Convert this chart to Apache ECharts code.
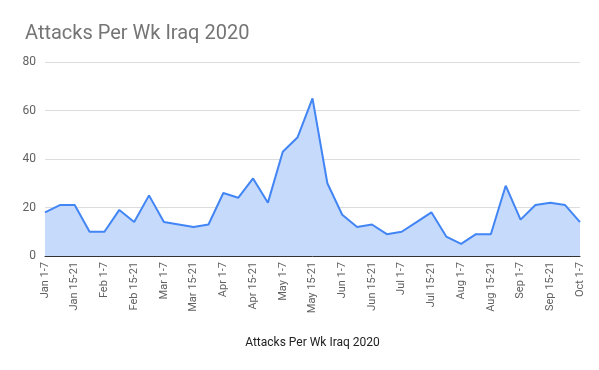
<!DOCTYPE html>
<html><head><meta charset="utf-8">
<script src="https://cdn.jsdelivr.net/npm/echarts@6/dist/echarts.min.js"></script>
<style>html,body{margin:0;padding:0;background:#fff}#c{width:599px;height:370px}</style>
</head><body><div id="c"></div>
<script>
const categories = [
  'Jan 1-7','Jan 8-14','Jan 15-21','Jan 22-31',
  'Feb 1-7','Feb 8-14','Feb 15-21','Feb 22-29',
  'Mar 1-7','Mar 8-14','Mar 15-21','Mar 22-31',
  'Apr 1-7','Apr 8-14','Apr 15-21','Apr 22-30',
  'May 1-7','May 8-14','May 15-21','May 22-31',
  'Jun 1-7','Jun 8-14','Jun 15-21','Jun 22-30',
  'Jul 1-7','Jul 8-14','Jul 15-21','Jul 22-31',
  'Aug 1-7','Aug 8-14','Aug 15-21','Aug 22-31',
  'Sep 1-7','Sep 8-14','Sep 15-21','Sep 22-30',
  'Oct 1-7'
];
const attacks = [18,21,21,10, 10,19,14,25, 14,13,12,13, 26,24,32,22, 43,49,65,30, 17,12,13,9, 10,14,18,8, 5,9,9,29, 15,21,22,21, 14];
const yTicks = {min:0, max:80, interval:20};
const titleText = 'Attacks Per Wk Iraq 2020';
const xAxisTitle = 'Attacks Per Wk Iraq 2020';

const chart = echarts.init(document.getElementById('c'), null, {renderer:'canvas'});
chart.setOption({
  animation:false,
  backgroundColor:'#fff',
  title:{text:titleText,left:20,top:19,textStyle:{fontFamily:'Roboto',fontSize:20,fontWeight:'normal',color:'#757575'}},
  grid:{left:45,right:19,top:62,bottom:114},
  xAxis:{
    type:'category',data:categories,boundaryGap:false,
    name:xAxisTitle,nameLocation:'middle',nameGap:81,
    nameTextStyle:{fontFamily:'Roboto',fontSize:12,color:'#222'},
    axisLine:{lineStyle:{color:'#333',width:1}},
    axisTick:{show:false},
    axisLabel:{interval:1,rotate:90,margin:6,fontFamily:'Roboto',fontSize:11,color:'#616161'},
    splitLine:{show:false}
  },
  yAxis:{
    type:'value',min:yTicks.min,max:yTicks.max,interval:yTicks.interval,
    axisLine:{show:false},axisTick:{show:false},
    axisLabel:{margin:9,fontFamily:'Roboto',fontSize:12,color:'#616161'},
    splitLine:{lineStyle:{color:'#ddd',width:1}}
  },
  series:[{
    type:'line',data:attacks,symbol:'none',
    lineStyle:{color:'#4285f4',width:2},
    areaStyle:{color:'#c6dafc',opacity:1}
  }]
});
</script></body></html>
